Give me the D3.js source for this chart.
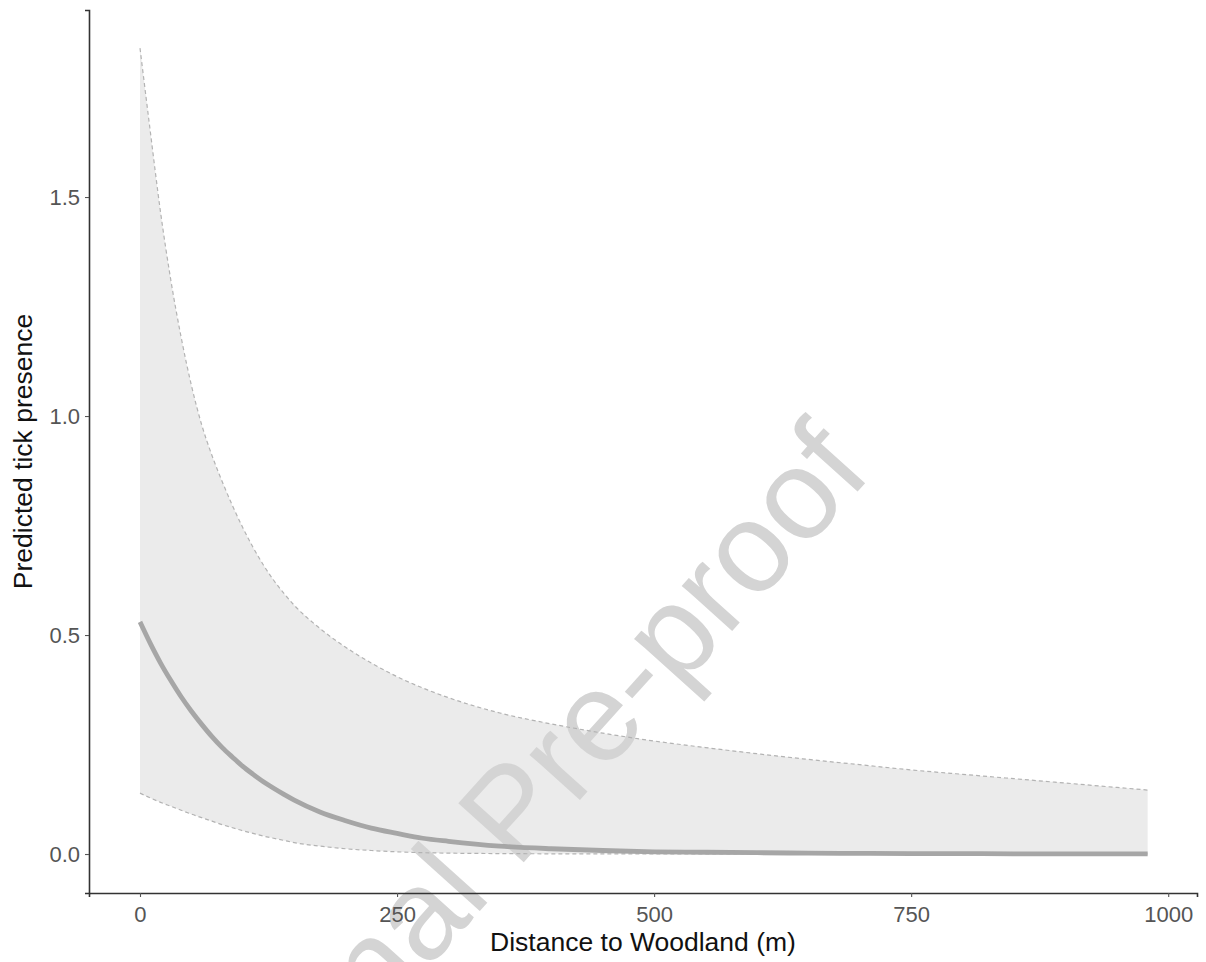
<!DOCTYPE html>
<html>
<head>
<meta charset="utf-8">
<script src="https://cdn.jsdelivr.net/npm/d3@7"></script>
<style>
  html, body { margin: 0; padding: 0; background: #fff; }
  svg { display: block; font-family: "Liberation Sans", Arial, sans-serif; }
</style>
</head>
<body>
<svg id="chart" width="1206" height="962"></svg>
<script>
// ---- data ----
const distance = [0,10,20,30,40,50,60,70,80,90,100,110,120,130,140,150,175,200,225,250,275,300,350,400,450,500,550,600,650,700,750,800,850,900,950,980];
const predicted = [0.530,0.481,0.436,0.396,0.359,0.326,0.296,0.268,0.243,0.221,0.200,0.182,0.165,0.150,0.136,0.123,0.096,0.076,0.059,0.047,0.036,0.029,0.018,0.012,0.008,0.005,0.004,0.003,0.002,0.0015,0.001,0.001,0.0005,0.0005,0.0003,0.0002];
const upperCI = [1.84,1.65,1.465,1.31,1.18,1.07,0.98,0.91,0.85,0.795,0.745,0.70,0.66,0.625,0.595,0.568,0.515,0.472,0.436,0.405,0.379,0.357,0.322,0.297,0.276,0.258,0.243,0.229,0.216,0.204,0.192,0.182,0.172,0.162,0.152,0.146];
const lowerCI = [0.139,0.128,0.118,0.109,0.100,0.091,0.083,0.075,0.067,0.060,0.053,0.047,0.041,0.036,0.031,0.026,0.018,0.012,0.008,0.005,0.003,0.002,0.001,0.0005,0.0004,0.0003,0.0002,0.0002,0.0001,0.0001,0.0001,0.0001,0.0001,0.0001,0.0001,0.0001];
const xTicks = [0,250,500,750,1000];
const yTicks = [0.0,0.5,1.0,1.5];
const xTitle = "Distance to Woodland (m)";
const yTitle = "Predicted tick presence";
const watermark = "Journal Pre-proof";

const rows = distance.map((d,i) => ({x:d, y:predicted[i], lo:lowerCI[i], hi:upperCI[i]}));

const svg = d3.select("#chart");
const mLeft = 89, mRight = 1197, mTop = 10, mBottom = 893;

const x = d3.scaleLinear().domain([-49.6, 1028]).range([mLeft, mRight]);
const y = d3.scaleLinear().domain([-0.089, 1.927]).range([mBottom, mTop]);

// ribbon
svg.append("path").datum(rows)
  .attr("fill", "#ebebeb")
  .attr("d", d3.area().x(d => x(d.x)).y0(d => y(d.lo)).y1(d => y(d.hi)).curve(d3.curveMonotoneX));

// watermark
svg.append("text")
  .attr("transform", "translate(543,841) rotate(-48)")
  .attr("text-anchor", "middle")
  .attr("font-size", 128)
  .attr("fill", "#d4d4d4")
  .text(watermark);

// dashed CI lines
["lo","hi"].forEach(k => {
  svg.append("path").datum(rows)
    .attr("fill", "none")
    .attr("stroke", "#b3b3b3")
    .attr("stroke-width", 1.2)
    .attr("stroke-dasharray", "4,3")
    .attr("d", d3.line().x(d => x(d.x)).y(d => y(d[k])).curve(d3.curveMonotoneX));
});

// mean line
svg.append("path").datum(rows)
  .attr("fill", "none")
  .attr("stroke", "#a6a6a6")
  .attr("stroke-width", 4.8)
  .attr("d", d3.line().x(d => x(d.x)).y(d => y(d.y)).curve(d3.curveMonotoneX));

// axes
const xAxis = svg.append("g").attr("transform", `translate(0,${mBottom})`)
  .call(d3.axisBottom(x).tickValues(xTicks).tickFormat(d3.format("d")).tickSizeOuter(0).tickSize(4).tickPadding(9));
const yAxis = svg.append("g").attr("transform", `translate(${mLeft},0)`)
  .call(d3.axisLeft(y).tickValues(yTicks).tickFormat(d3.format(".1f")).tickSizeOuter(0).tickSize(4).tickPadding(5));

[xAxis, yAxis].forEach(g => {
  g.select(".domain").attr("stroke", "#333").attr("stroke-width", 1.6);
  g.selectAll(".tick line").attr("stroke", "#555").attr("stroke-width", 1.1);
  g.selectAll(".tick text").attr("fill", "#555").attr("font-size", 22)
    .attr("font-family", '"Liberation Sans", Arial, sans-serif');
});

svg.append("text")
  .attr("x", (mLeft + mRight) / 2).attr("y", 951)
  .attr("text-anchor", "middle").attr("font-size", 26.5).attr("fill", "#111")
  .text(xTitle);

svg.append("text")
  .attr("transform", `translate(32,${(mTop + mBottom) / 2}) rotate(-90)`)
  .attr("text-anchor", "middle").attr("font-size", 26.5).attr("fill", "#111")
  .text(yTitle);
</script>
</body>
</html>
